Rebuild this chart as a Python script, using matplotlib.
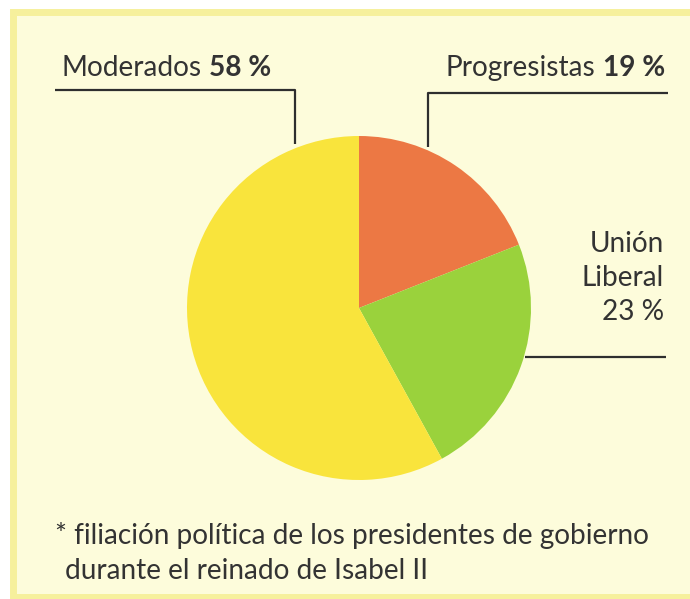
import matplotlib.pyplot as plt
from matplotlib.patches import Rectangle

# data
parties = ["Progresistas", "Unión Liberal", "Moderados"]
shares = [19, 23, 58]
colors = ["#EC7844", "#9AD23C", "#F9E43C"]

W, H = 690, 599
BG = "#FDFCDB"
BORDER = "#F6F09C"
INK = "#333333"

plt.rcParams.update({
    "font.family": ["Lato", "DejaVu Sans"],
})

fig = plt.figure(figsize=(W / 100, H / 100), dpi=100)
fig.patch.set_facecolor("white")
ax = fig.add_axes([0, 0, 1, 1])

# yellow panel with a slightly darker frame
ax.add_patch(Rectangle((13, 2), W + 20, H - 14, facecolor=BG,
                       edgecolor=BORDER, linewidth=5, zorder=0))

cx, cy, r = 359, 291, 172
ax.pie(shares, colors=colors, startangle=90, counterclock=False,
       center=(cx, cy), radius=r, frame=True,
       wedgeprops=dict(linewidth=0))
ax.set_xlim(0, W)
ax.set_ylim(0, H)
ax.set_aspect("equal")
ax.axis("off")

fs = 20.2
line_kw = dict(color="#2E2E2E", lw=1.6, solid_capstyle="butt")


def width_of(s, **kw):
    t = ax.text(0, 0, s, fontsize=fs, color="none", **kw)
    fig.canvas.draw()
    bb = t.get_window_extent().transformed(ax.transData.inverted())
    t.remove()
    return bb.x1 - bb.x0


sp = width_of("a a") - width_of("aa")

# Moderados label
ax.text(62, 523, "Moderados", fontsize=fs, color=INK, ha="left", va="baseline")
x0 = 62 + width_of("Moderados") + sp
ax.text(x0, 523, f"{shares[2]} %", fontsize=fs, color=INK,
        weight="bold", ha="left", va="baseline")
ax.plot([55, 295, 295], [509, 509, 455], **line_kw)

# Progresistas label
ax.text(665, 523, f"{shares[0]} %", fontsize=fs, color=INK,
        weight="bold", ha="right", va="baseline")
x1 = 665 - width_of(f"{shares[0]} %", weight="bold") - sp
ax.text(x1, 523, "Progresistas", fontsize=fs, color=INK,
        ha="right", va="baseline")
ax.plot([428, 428, 668], [452, 506, 506], **line_kw)

# Unión Liberal label
ax.text(664, 347, "Unión", fontsize=fs, color=INK, ha="right", va="baseline")
ax.text(664, 313, "Liberal", fontsize=fs, color=INK, ha="right", va="baseline")
ax.text(664, 279, f"{shares[1]} %", fontsize=fs, color=INK,
        ha="right", va="baseline")
ax.plot([525, 666], [242, 242], **line_kw)

# footnote
ax.text(55, 55, "* filiación política de los presidentes de gobierno",
        fontsize=fs, color=INK, ha="left", va="baseline")
ax.text(65, 20, "durante el reinado de Isabel II",
        fontsize=fs, color=INK, ha="left", va="baseline")

fig.savefig("out.png", dpi=100, facecolor=fig.get_facecolor())
